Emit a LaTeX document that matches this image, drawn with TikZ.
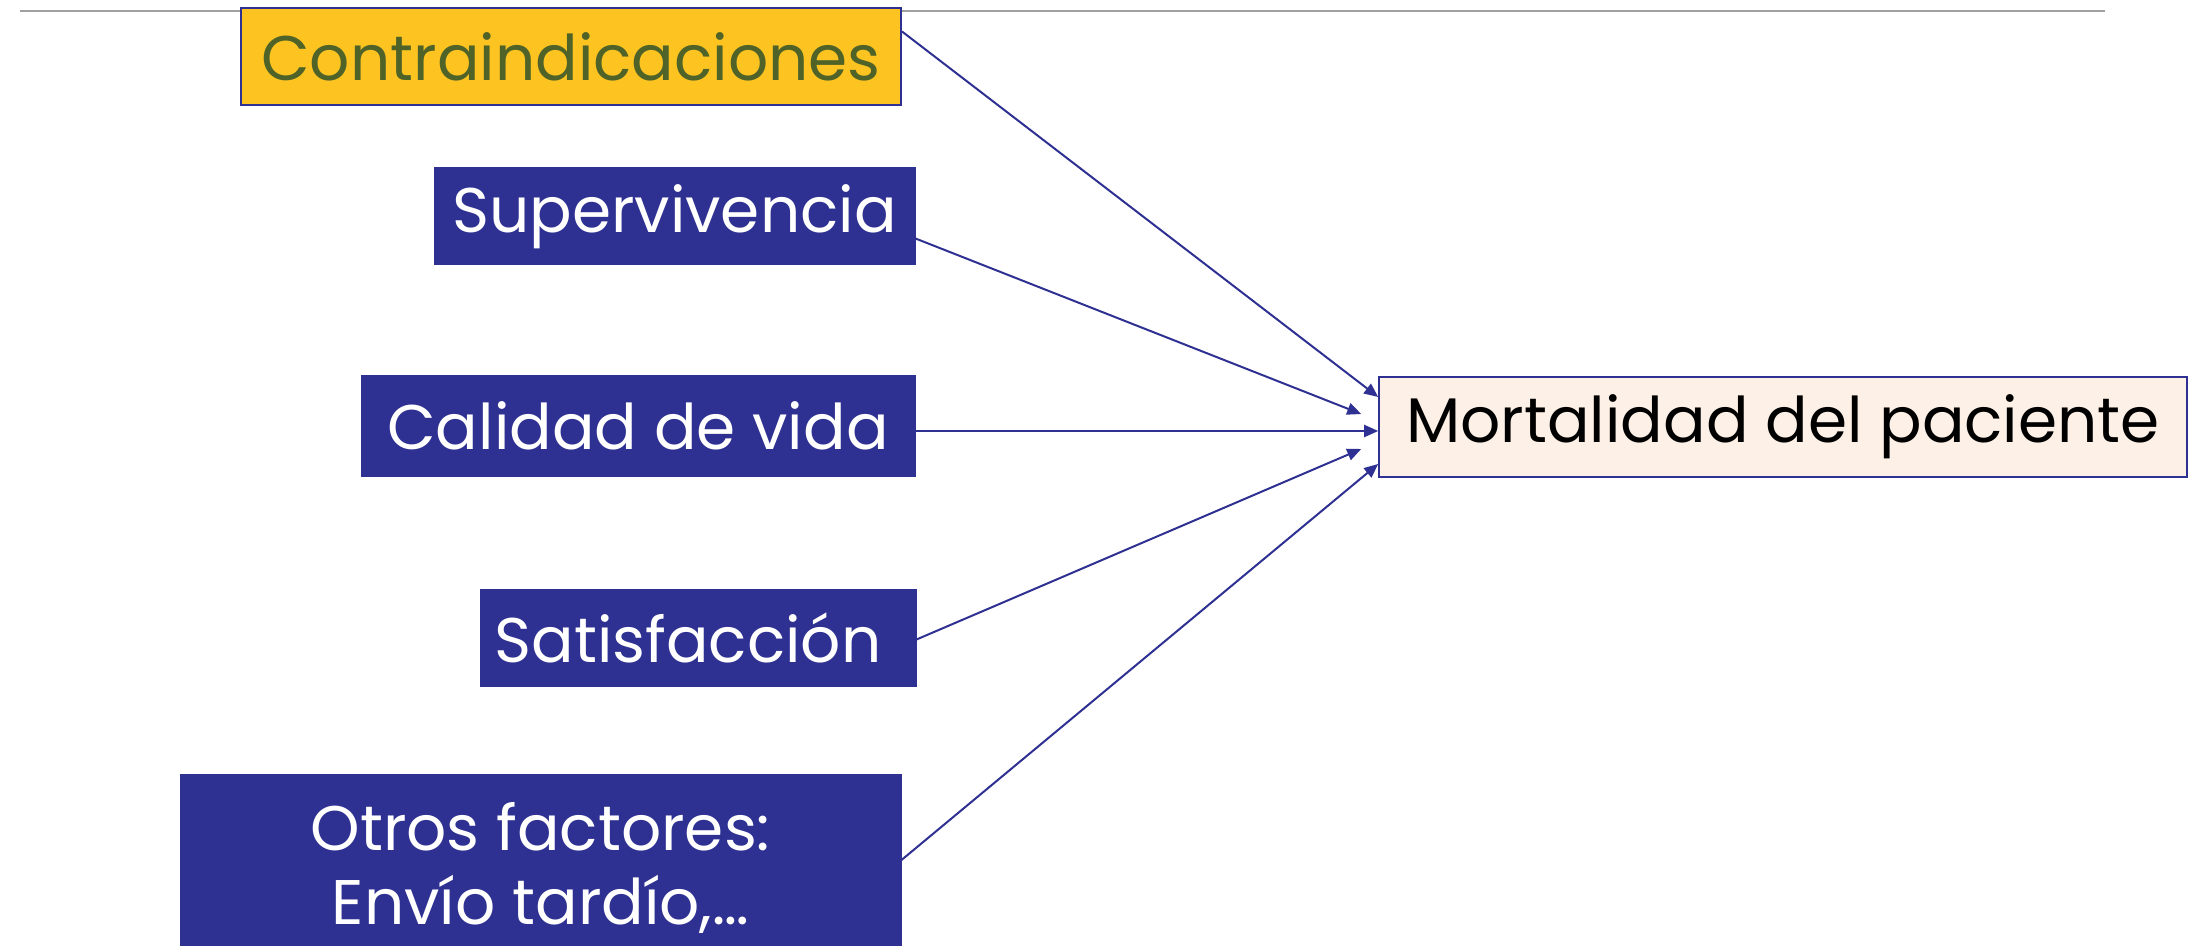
\documentclass[tikz,border=0pt]{standalone}
\usepackage{fontspec}
\setmainfont{Poppins}
\usetikzlibrary{arrows.meta,calc}
\definecolor{navy}{HTML}{2E3192}
\definecolor{gold}{HTML}{FDC421}
\definecolor{olive}{HTML}{4F6228}
\definecolor{peach}{HTML}{FDF0E6}
\definecolor{rule}{HTML}{A0A0A0}
\tikzset{
  txt/.style={font=\fontsize{31.5}{37}\selectfont},
  bluebox/.style={txt, draw=navy, fill=navy, text=white, inner sep=0pt, line width=0.5pt, align=center},
  goldbox/.style={txt, draw=navy, fill=gold, text=olive, inner sep=0pt, line width=1pt},
  targetbox/.style={txt, draw=navy, fill=peach, text=black, inner sep=0pt, line width=0.8pt},
  conn/.style={draw=navy, line width=1pt, -{Triangle[length=7pt,width=6pt]}}
}
\begin{document}
\begin{tikzpicture}[x=0.5pt,y=-0.5pt]
\useasboundingbox (0,0) rectangle (2200,946);
\clip (0,0) rectangle (2200,946);
\draw[rule, line width=1pt] (20,11) -- (2105,11);
\node[goldbox, minimum width=330pt, minimum height=48.5pt] (c) at (571,56.5) {Contraindicaciones};
\node[bluebox, minimum width=240.5pt, minimum height=48.5pt] (s) at (674.5,216.5) {Supervivencia};
\node[bluebox, minimum width=277pt, minimum height=50pt] (q) at (638,426) {Calidad de vida};
\node[bluebox, minimum width=218pt, minimum height=48.5pt] (f) at (698,637.5) {Satisfacción\hspace{10pt}};
\node[bluebox, minimum width=360.5pt, minimum height=86pt] (o) at (540.5,860) {};
\node[txt, text=white, align=center] (ot) at (540.5,868) {Otros factores:\\Envío tardío,…};
\node[targetbox, minimum width=404pt, minimum height=50pt] (m) at (1783,427) {Mortalidad del paciente};
\coordinate (e1) at ($(m.west)+(0,-30)$);
\coordinate (e2) at ($(m.west)+(-17,-13)$);
\coordinate (e4) at ($(m.west)+(-17,22)$);
\coordinate (e5) at ($(m.west)+(0,37)$);
\draw[conn] ($(c.east)+(0,-25)$) -- (e1);
\draw[conn] ($(s.east)+(0,22)$) -- (e2);
\draw[conn] ($(q.east)+(0,5)$) -- ($(m.west)+(0,4)$);
\draw[conn] ($(f.east)+(0,2)$) -- (e4);
\draw[conn] ($(o.east)+(0,0)$) -- (e5);
\end{tikzpicture}
\end{document}
